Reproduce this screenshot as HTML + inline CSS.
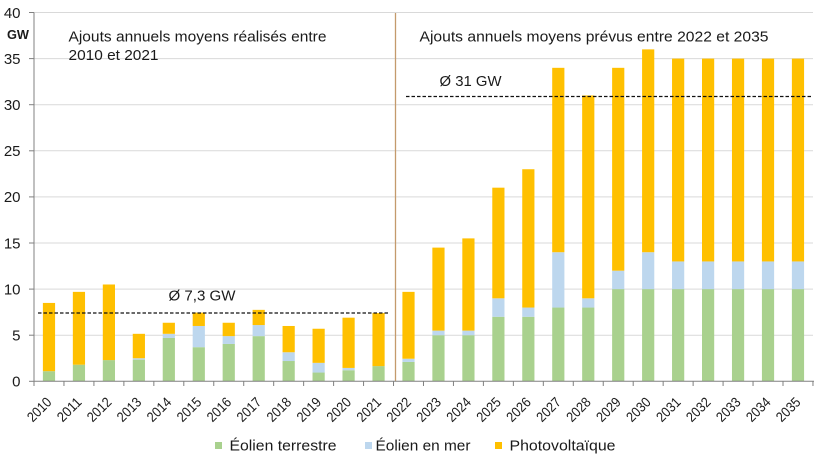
<!DOCTYPE html>
<html><head><meta charset="utf-8">
<style>
html,body{margin:0;padding:0;background:#fff;}
svg{display:block;font-family:"Liberation Sans",Arial,sans-serif;}
</style></head>
<body>
<svg width="825" height="464" viewBox="0 0 825 464" xmlns="http://www.w3.org/2000/svg">
<rect width="825" height="464" fill="#fff"/>
<!-- gridlines -->
<g stroke="#D9D9D9" stroke-width="1">
<line x1="34" y1="335.2" x2="813" y2="335.2"/>
<line x1="34" y1="289.1" x2="813" y2="289.1"/>
<line x1="34" y1="243" x2="813" y2="243"/>
<line x1="34" y1="196.9" x2="813" y2="196.9"/>
<line x1="34" y1="150.8" x2="813" y2="150.8"/>
<line x1="34" y1="104.7" x2="813" y2="104.7"/>
<line x1="34" y1="58.6" x2="813" y2="58.6"/>
<line x1="34" y1="12.5" x2="813" y2="12.5"/>
</g>
<!-- bars -->
<g transform="translate(0,381.3) scale(1,-9.22)">
<g fill="#A9D18E">
<rect x="42.88" y="0" width="12.2" height="1.1"/>
<rect x="72.84" y="0" width="12.2" height="1.8"/>
<rect x="102.8" y="0" width="12.2" height="2.3"/>
<rect x="132.76" y="0" width="12.2" height="2.35"/>
<rect x="162.72" y="0" width="12.2" height="4.7"/>
<rect x="192.68" y="0" width="12.2" height="3.7"/>
<rect x="222.64" y="0" width="12.2" height="4.05"/>
<rect x="252.6" y="0" width="12.2" height="4.9"/>
<rect x="282.56" y="0" width="12.2" height="2.2"/>
<rect x="312.52" y="0" width="12.2" height="0.95"/>
<rect x="342.48" y="0" width="12.2" height="1.2"/>
<rect x="372.44" y="0" width="12.2" height="1.65"/>
<rect x="402.4" y="0" width="12.2" height="2.1"/>
<rect x="432.36" y="0" width="12.2" height="5"/>
<rect x="462.32" y="0" width="12.2" height="5"/>
<rect x="492.28" y="0" width="12.2" height="7"/>
<rect x="522.24" y="0" width="12.2" height="7"/>
<rect x="552.2" y="0" width="12.2" height="8"/>
<rect x="582.16" y="0" width="12.2" height="8"/>
<rect x="612.12" y="0" width="12.2" height="10"/>
<rect x="642.08" y="0" width="12.2" height="10"/>
<rect x="672.04" y="0" width="12.2" height="10"/>
<rect x="702" y="0" width="12.2" height="10"/>
<rect x="731.96" y="0" width="12.2" height="10"/>
<rect x="761.92" y="0" width="12.2" height="10"/>
<rect x="791.88" y="0" width="12.2" height="10"/>
</g>
<g fill="#BDD7EE">
<rect x="132.76" y="2.35" width="12.2" height="0.15"/>
<rect x="162.72" y="4.7" width="12.2" height="0.45"/>
<rect x="192.68" y="3.7" width="12.2" height="2.3"/>
<rect x="222.64" y="4.05" width="12.2" height="0.85"/>
<rect x="252.6" y="4.9" width="12.2" height="1.2"/>
<rect x="282.56" y="2.2" width="12.2" height="0.95"/>
<rect x="312.52" y="0.95" width="12.2" height="1.05"/>
<rect x="342.48" y="1.2" width="12.2" height="0.25"/>
<rect x="402.4" y="2.1" width="12.2" height="0.35"/>
<rect x="432.36" y="5" width="12.2" height="0.5"/>
<rect x="462.32" y="5" width="12.2" height="0.5"/>
<rect x="492.28" y="7" width="12.2" height="2"/>
<rect x="522.24" y="7" width="12.2" height="1"/>
<rect x="552.2" y="8" width="12.2" height="6"/>
<rect x="582.16" y="8" width="12.2" height="1"/>
<rect x="612.12" y="10" width="12.2" height="2"/>
<rect x="642.08" y="10" width="12.2" height="4"/>
<rect x="672.04" y="10" width="12.2" height="3"/>
<rect x="702" y="10" width="12.2" height="3"/>
<rect x="731.96" y="10" width="12.2" height="3"/>
<rect x="761.92" y="10" width="12.2" height="3"/>
<rect x="791.88" y="10" width="12.2" height="3"/>
</g>
<g fill="#FFC000">
<rect x="42.88" y="1.1" width="12.2" height="7.4"/>
<rect x="72.84" y="1.8" width="12.2" height="7.9"/>
<rect x="102.8" y="2.3" width="12.2" height="8.2"/>
<rect x="132.76" y="2.5" width="12.2" height="2.65"/>
<rect x="162.72" y="5.15" width="12.2" height="1.2"/>
<rect x="192.68" y="6" width="12.2" height="1.45"/>
<rect x="222.64" y="4.9" width="12.2" height="1.45"/>
<rect x="252.6" y="6.1" width="12.2" height="1.65"/>
<rect x="282.56" y="3.15" width="12.2" height="2.85"/>
<rect x="312.52" y="2" width="12.2" height="3.7"/>
<rect x="342.48" y="1.45" width="12.2" height="5.45"/>
<rect x="372.44" y="1.65" width="12.2" height="5.75"/>
<rect x="402.4" y="2.45" width="12.2" height="7.25"/>
<rect x="432.36" y="5.5" width="12.2" height="9"/>
<rect x="462.32" y="5.5" width="12.2" height="10"/>
<rect x="492.28" y="9" width="12.2" height="12"/>
<rect x="522.24" y="8" width="12.2" height="15"/>
<rect x="552.2" y="14" width="12.2" height="20"/>
<rect x="582.16" y="9" width="12.2" height="22"/>
<rect x="612.12" y="12" width="12.2" height="22"/>
<rect x="642.08" y="14" width="12.2" height="22"/>
<rect x="672.04" y="13" width="12.2" height="22"/>
<rect x="702" y="13" width="12.2" height="22"/>
<rect x="731.96" y="13" width="12.2" height="22"/>
<rect x="761.92" y="13" width="12.2" height="22"/>
<rect x="791.88" y="13" width="12.2" height="22"/>
</g>
</g>
<!-- separator -->
<line x1="395.5" y1="13" x2="395.5" y2="381" stroke="#C49A6C" stroke-width="1.3"/>
<!-- dashed averages -->
<line x1="38" y1="313" x2="388" y2="313" stroke="#111" stroke-width="1.3" stroke-dasharray="3.5,2"/>
<line x1="406" y1="96.5" x2="813" y2="96.5" stroke="#111" stroke-width="1.3" stroke-dasharray="3.5,2"/>
<!-- axes -->
<g stroke="#808080" stroke-width="1">
<line x1="34" y1="12.5" x2="34" y2="381.3"/>
<line x1="34" y1="381.3" x2="814" y2="381.3"/>
<line x1="29" y1="381.3" x2="34" y2="381.3"/>
<line x1="29" y1="335.2" x2="34" y2="335.2"/>
<line x1="29" y1="289.1" x2="34" y2="289.1"/>
<line x1="29" y1="243" x2="34" y2="243"/>
<line x1="29" y1="196.9" x2="34" y2="196.9"/>
<line x1="29" y1="150.8" x2="34" y2="150.8"/>
<line x1="29" y1="104.7" x2="34" y2="104.7"/>
<line x1="29" y1="58.6" x2="34" y2="58.6"/>
<line x1="29" y1="12.5" x2="34" y2="12.5"/>
<line x1="34" y1="381" x2="34" y2="386"/>
<line x1="63.96" y1="381" x2="63.96" y2="386"/>
<line x1="93.92" y1="381" x2="93.92" y2="386"/>
<line x1="123.88" y1="381" x2="123.88" y2="386"/>
<line x1="153.84" y1="381" x2="153.84" y2="386"/>
<line x1="183.8" y1="381" x2="183.8" y2="386"/>
<line x1="213.76" y1="381" x2="213.76" y2="386"/>
<line x1="243.72" y1="381" x2="243.72" y2="386"/>
<line x1="273.68" y1="381" x2="273.68" y2="386"/>
<line x1="303.64" y1="381" x2="303.64" y2="386"/>
<line x1="333.6" y1="381" x2="333.6" y2="386"/>
<line x1="363.56" y1="381" x2="363.56" y2="386"/>
<line x1="393.52" y1="381" x2="393.52" y2="386"/>
<line x1="423.48" y1="381" x2="423.48" y2="386"/>
<line x1="453.44" y1="381" x2="453.44" y2="386"/>
<line x1="483.4" y1="381" x2="483.4" y2="386"/>
<line x1="513.36" y1="381" x2="513.36" y2="386"/>
<line x1="543.32" y1="381" x2="543.32" y2="386"/>
<line x1="573.28" y1="381" x2="573.28" y2="386"/>
<line x1="603.24" y1="381" x2="603.24" y2="386"/>
<line x1="633.2" y1="381" x2="633.2" y2="386"/>
<line x1="663.16" y1="381" x2="663.16" y2="386"/>
<line x1="693.12" y1="381" x2="693.12" y2="386"/>
<line x1="723.08" y1="381" x2="723.08" y2="386"/>
<line x1="753.04" y1="381" x2="753.04" y2="386"/>
<line x1="783" y1="381" x2="783" y2="386"/>
<line x1="812.96" y1="381" x2="812.96" y2="386"/>
</g>
<!-- y labels -->
<g font-size="15" fill="#1a1a1a" text-anchor="end">
<text x="20.5" y="386.6">0</text>
<text x="20.5" y="340.5">5</text>
<text x="20.5" y="294.4">10</text>
<text x="20.5" y="248.3">15</text>
<text x="20.5" y="202.2">20</text>
<text x="20.5" y="156.1">25</text>
<text x="20.5" y="110">30</text>
<text x="20.5" y="63.9">35</text>
<text x="20.5" y="17.8">40</text>
</g>
<text x="7" y="38.8" font-size="12.5" font-weight="bold" fill="#1a1a1a" textLength="22" lengthAdjust="spacingAndGlyphs">GW</text>
<!-- x labels -->
<g font-size="14" fill="#1a1a1a" text-anchor="end">
<text transform="translate(52.5,403) rotate(-45)" textLength="28" lengthAdjust="spacingAndGlyphs">2010</text>
<text transform="translate(82.44,403) rotate(-45)" textLength="28" lengthAdjust="spacingAndGlyphs">2011</text>
<text transform="translate(112.4,403) rotate(-45)" textLength="28" lengthAdjust="spacingAndGlyphs">2012</text>
<text transform="translate(142.36,403) rotate(-45)" textLength="28" lengthAdjust="spacingAndGlyphs">2013</text>
<text transform="translate(172.32,403) rotate(-45)" textLength="28" lengthAdjust="spacingAndGlyphs">2014</text>
<text transform="translate(202.28,403) rotate(-45)" textLength="28" lengthAdjust="spacingAndGlyphs">2015</text>
<text transform="translate(232.24,403) rotate(-45)" textLength="28" lengthAdjust="spacingAndGlyphs">2016</text>
<text transform="translate(262.2,403) rotate(-45)" textLength="28" lengthAdjust="spacingAndGlyphs">2017</text>
<text transform="translate(292.16,403) rotate(-45)" textLength="28" lengthAdjust="spacingAndGlyphs">2018</text>
<text transform="translate(322.12,403) rotate(-45)" textLength="28" lengthAdjust="spacingAndGlyphs">2019</text>
<text transform="translate(352.08,403) rotate(-45)" textLength="28" lengthAdjust="spacingAndGlyphs">2020</text>
<text transform="translate(382.04,403) rotate(-45)" textLength="28" lengthAdjust="spacingAndGlyphs">2021</text>
<text transform="translate(412,403) rotate(-45)" textLength="28" lengthAdjust="spacingAndGlyphs">2022</text>
<text transform="translate(441.96,403) rotate(-45)" textLength="28" lengthAdjust="spacingAndGlyphs">2023</text>
<text transform="translate(471.92,403) rotate(-45)" textLength="28" lengthAdjust="spacingAndGlyphs">2024</text>
<text transform="translate(501.88,403) rotate(-45)" textLength="28" lengthAdjust="spacingAndGlyphs">2025</text>
<text transform="translate(531.84,403) rotate(-45)" textLength="28" lengthAdjust="spacingAndGlyphs">2026</text>
<text transform="translate(561.8,403) rotate(-45)" textLength="28" lengthAdjust="spacingAndGlyphs">2027</text>
<text transform="translate(591.76,403) rotate(-45)" textLength="28" lengthAdjust="spacingAndGlyphs">2028</text>
<text transform="translate(621.72,403) rotate(-45)" textLength="28" lengthAdjust="spacingAndGlyphs">2029</text>
<text transform="translate(651.68,403) rotate(-45)" textLength="28" lengthAdjust="spacingAndGlyphs">2030</text>
<text transform="translate(681.64,403) rotate(-45)" textLength="28" lengthAdjust="spacingAndGlyphs">2031</text>
<text transform="translate(711.6,403) rotate(-45)" textLength="28" lengthAdjust="spacingAndGlyphs">2032</text>
<text transform="translate(741.56,403) rotate(-45)" textLength="28" lengthAdjust="spacingAndGlyphs">2033</text>
<text transform="translate(771.52,403) rotate(-45)" textLength="28" lengthAdjust="spacingAndGlyphs">2034</text>
<text transform="translate(801.48,403) rotate(-45)" textLength="28" lengthAdjust="spacingAndGlyphs">2035</text>
</g>
<!-- annotations -->
<g font-size="15" fill="#1a1a1a">
<text x="68.5" y="41.7" textLength="258" lengthAdjust="spacingAndGlyphs">Ajouts annuels moyens réalisés entre</text>
<text x="68.5" y="60" textLength="90" lengthAdjust="spacingAndGlyphs">2010 et 2021</text>
<text x="419.5" y="41.7" textLength="349" lengthAdjust="spacingAndGlyphs">Ajouts annuels moyens prévus entre 2022 et 2035</text>
<text x="168.5" y="300.7" textLength="67" lengthAdjust="spacingAndGlyphs">Ø 7,3 GW</text>
<text x="439.5" y="86" textLength="62" lengthAdjust="spacingAndGlyphs">Ø 31 GW</text>
</g>
<!-- legend -->
<rect x="215" y="442" width="7" height="7" fill="#A9D18E"/>
<rect x="365" y="442" width="7" height="7" fill="#BDD7EE"/>
<rect x="495" y="442" width="7" height="7" fill="#FFC000"/>
<g font-size="15" fill="#1a1a1a">
<text x="229.5" y="450.5" textLength="107" lengthAdjust="spacingAndGlyphs">Éolien terrestre</text>
<text x="375.5" y="450.5" textLength="95" lengthAdjust="spacingAndGlyphs">Éolien en mer</text>
<text x="509.5" y="450.5" textLength="106" lengthAdjust="spacingAndGlyphs">Photovoltaïque</text>
</g>
</svg>
</body></html>
